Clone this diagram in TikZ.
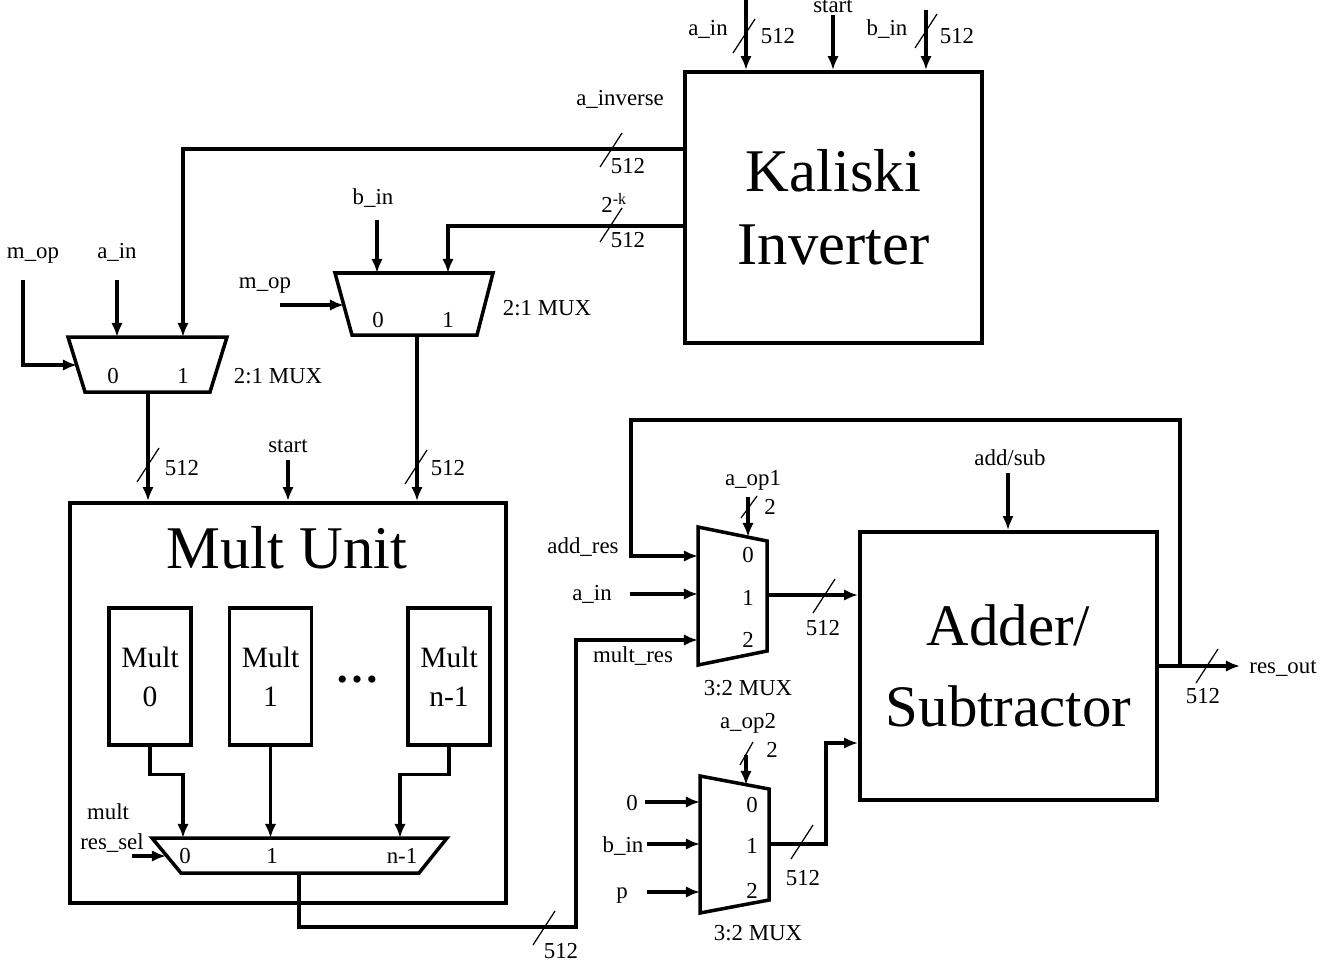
\documentclass[tikz,border=0pt]{standalone}
\usepackage{fontspec}
\setmainfont{Liberation Serif}
\usepackage{tikz}
\usetikzlibrary{arrows.meta, positioning}

\begin{document}
\begin{tikzpicture}[
  x=0.02cm, y=-0.02cm,
  wire/.style={line width=1.8pt},
  sig/.style={wire, -{Latex[length=8pt,width=6.5pt]}},
  unit/.style={draw, line width=2.2pt, align=center},
  muxbox/.style={draw, line width=2pt, line join=miter},
  lbl/.style={font=\fontsize{13}{15.6}\selectfont, inner sep=0pt, anchor=base},
  bigtxt/.style={font=\fontsize{34.5}{41.4}\selectfont, align=center},
  slash/.style={line width=0.7pt}
]
\useasboundingbox (0,0) rectangle (1341,967);

% blocks
\node[unit, bigtxt, minimum width=5.94cm, minimum height=5.42cm] (kal) at (833.5,207.5) {Kaliski\\Inverter};
\node[unit, minimum width=8.72cm, minimum height=8cm] (mu) at (288,703) {};
\node[bigtxt, lbl, font=\fontsize{34.5}{41.4}\selectfont] (mutitle) at (287,568) {Mult Unit};
\node[unit, font=\fontsize{33.5}{46}\selectfont, minimum width=5.94cm, minimum height=5.36cm] (add) at (1008.5,666) {Adder/\\Subtractor};

\node[unit, line width=2pt, font=\fontsize{16.8}{22.1}\selectfont, minimum width=1.64cm, minimum height=2.74cm] (m0) at (150,676.5) {Mult\\0};
\node[unit, line width=2pt, font=\fontsize{16.8}{22.1}\selectfont, minimum width=1.64cm, minimum height=2.74cm] (m1) at (270.5,676.5) {Mult\\1};
\node[unit, line width=2pt, font=\fontsize{16.8}{22.1}\selectfont, minimum width=1.64cm, minimum height=2.74cm] (mn) at (449,676.5) {Mult\\n-1};
\node[font=\fontsize{25}{25}\selectfont\bfseries, inner sep=0pt, anchor=base] (dots) at (357,682) {…};

% muxes
\draw[muxbox] (68,337) -- (227,337) -- (210,392) -- (85,392) -- cycle;
\draw[muxbox] (335,273) -- (493,273) -- (477,335) -- (352,335) -- cycle;
\draw[muxbox] (152,838) -- (447,838) -- (419,873) -- (181,873) -- cycle;
\draw[muxbox] (698,527) -- (767,541) -- (767,651) -- (698,665) -- cycle;
\draw[muxbox] (700,776) -- (769,789) -- (769,900) -- (700,913) -- cycle;

% mux ports
\coordinate (mA-in0) at (117,337);
\coordinate (mA-in1) at (183,337);
\coordinate (mA-sel) at (77,365);
\coordinate (mA-out) at (148,392);
\coordinate (mB-in0) at (377,273);
\coordinate (mB-in1) at (448,273);
\coordinate (mB-sel) at (344,305);
\coordinate (mB-out) at (417,335);
\coordinate (mC-in0) at (183,838);
\coordinate (mC-in1) at (270.5,838);
\coordinate (mC-in2) at (400,838);
\coordinate (mC-sel) at (166,856);
\coordinate (mC-out) at (299,873);
\coordinate (mD-in0) at (698,556);
\coordinate (mD-in1) at (698,594);
\coordinate (mD-in2) at (698,640);
\coordinate (mD-sel) at (748,537);
\coordinate (mD-out) at (767,595);
\coordinate (mE-in0) at (700,802);
\coordinate (mE-in1) at (700,844);
\coordinate (mE-in2) at (700,892);
\coordinate (mE-sel) at (746,785);
\coordinate (mE-out) at (769,844);

% free ends and corners
\coordinate (kAinT) at (746,0);
\coordinate (kStT) at (833,15);
\coordinate (kBinT) at (926,10);
\coordinate (kInv) at (kal.west |- 0,149);
\coordinate (kTwo) at (kal.west |- 0,226);
\coordinate (bInB) at (377,220);
\coordinate (mopB) at (280,305);
\coordinate (aInA) at (117,280);
\coordinate (mopA) at (23,280);
\coordinate (muSt) at (288,460);
\coordinate (rsel) at (132,856);
\coordinate (mrTurn) at (576,927);
\coordinate (brOut) at (1180,666);
\coordinate (loopTL) at (631,420);
\coordinate (aInD) at (630,594);
\coordinate (aop1) at (748,497);
\coordinate (zeroE) at (645,802);
\coordinate (bInE) at (647,844);
\coordinate (pE) at (647,892);
\coordinate (aop2) at (746,755);
\coordinate (mEjog) at (826,743);
\coordinate (addSub) at (1008,473);
\coordinate (resOut) at (1240,666);

% connectors
\draw[sig] (kAinT) -- (kAinT |- kal.north);
\draw[sig] (kStT) -- (kStT |- kal.north);
\draw[sig] (kBinT) -- (kBinT |- kal.north);
\draw[sig] (kInv) -| (mA-in1);
\draw[sig] (kTwo) -| (mB-in1);
\draw[sig] (bInB) -- (mB-in0);
\draw[sig] (mopB) -- (mB-sel);
\draw[sig] (aInA) -- (mA-in0);
\draw[sig] (mopA) |- (mA-sel);
\draw[sig] (mA-out) -- (mA-out |- mu.north);
\draw[sig] (mB-out) -- (mB-out |- mu.north);
\draw[sig] (muSt) -- (muSt |- mu.north);
\draw[sig] (m0.south) -- ++(0,28) -| (mC-in0);
\draw[sig] (m1.south) -- (mC-in1);
\draw[sig] (mn.south) -- ++(0,28) -| (mC-in2);
\draw[sig] (rsel) -- (mC-sel);
\draw[sig] (mC-out) |- (mrTurn) |- (mD-in2);
\draw[sig] (brOut) |- (loopTL) |- (mD-in0);
\draw[sig] (aInD) -- (mD-in1);
\draw[sig] (aop1) -- (mD-sel);
\draw[sig] (mD-out) -- (mD-out -| add.west);
\draw[sig] (zeroE) -- (mE-in0);
\draw[sig] (bInE) -- (mE-in1);
\draw[sig] (pE) -- (mE-in2);
\draw[sig] (aop2) -- (mE-sel);
\draw[sig] (mE-out) -| (mEjog) -- (mEjog -| add.west);
\draw[sig] (addSub) -- (addSub |- add.north);
\draw[sig] (add.east) -- (resOut);

% bus width marks
\foreach \x/\y in {744/36, 926/31, 611/150, 611/225, 148/465, 416/467, 544/928, 824/596, 802/842, 1207/666}
  \draw[slash] (\x-11,\y+17) -- (\x+11,\y-17);
\draw[slash] (741,518) -- (757,496);
\draw[slash] (740,765) -- (753,742);

% labels
\node[lbl] (lAinK) at (708,35) {a\_in};
\node[lbl] (lW1) at (778,43) {512};
\node[lbl] (lStK) at (833,12) {start};
\node[lbl] (lBinK) at (887,35) {b\_in};
\node[lbl] (lW2) at (957,43) {512};
\node[lbl] (lInv) at (620,105) {a\_inverse};
\node[lbl] (lW3) at (628,173) {512};
\node[lbl, anchor=base west] (lTwo) at (601,212) {2\textsuperscript{-k}};
\node[lbl] (lW4) at (628,247) {512};
\node[lbl] (lBinB) at (373,204) {b\_in};
\node[lbl] (lMopB) at (265,288) {m\_op};
\node[lbl] (lB0) at (378,327) {0};
\node[lbl] (lB1) at (448,327) {1};
\node[lbl] (lMuxB) at (547,315) {2:1 MUX};
\node[lbl] (lMopA) at (33,258) {m\_op};
\node[lbl] (lAinA) at (117,258) {a\_in};
\node[lbl] (lA0) at (113,383) {0};
\node[lbl] (lA1) at (183,383) {1};
\node[lbl] (lMuxA) at (278,383) {2:1 MUX};
\node[lbl] (lW5) at (182,475) {512};
\node[lbl] (lStM) at (288,452) {start};
\node[lbl] (lW6) at (448,475) {512};
\node[lbl] (lMult) at (108,819) {mult};
\node[lbl] (lRsel) at (112,849) {res\_sel};
\node[lbl] (lC0) at (185,863) {0};
\node[lbl] (lC1) at (272,863) {1};
\node[lbl] (lC2) at (402,863) {n-1};
\node[lbl] (lW7) at (561,958) {512};
\node[lbl] (lAddRes) at (583,553) {add\_res};
\node[lbl] (lAinD) at (592,600) {a\_in};
\node[lbl] (lMres) at (633,662) {mult\_res};
\node[lbl] (lAop1) at (753,485) {a\_op1};
\node[lbl] (lS1) at (770,514) {2};
\node[lbl] (lD0) at (748,562) {0};
\node[lbl] (lD1) at (748,605) {1};
\node[lbl] (lD2) at (748,647) {2};
\node[lbl] (lW8) at (823,635) {512};
\node[lbl] (lMuxD) at (748,695) {3:2 MUX};
\node[lbl] (lAop2) at (748,728) {a\_op2};
\node[lbl] (lS2) at (772,757) {2};
\node[lbl] (lE0) at (752,812) {0};
\node[lbl] (lE1) at (752,853) {1};
\node[lbl] (lE2) at (752,898) {2};
\node[lbl] (lZero) at (632,810) {0};
\node[lbl] (lBinE) at (623,852) {b\_in};
\node[lbl] (lP) at (622,898) {p};
\node[lbl] (lW9) at (803,885) {512};
\node[lbl] (lMuxE) at (758,940) {3:2 MUX};
\node[lbl] (lAddSub) at (1010,465) {add/sub};
\node[lbl] (lRes) at (1283,673) {res\_out};
\node[lbl] (lW10) at (1203,703) {512};
\end{tikzpicture}
\end{document}
